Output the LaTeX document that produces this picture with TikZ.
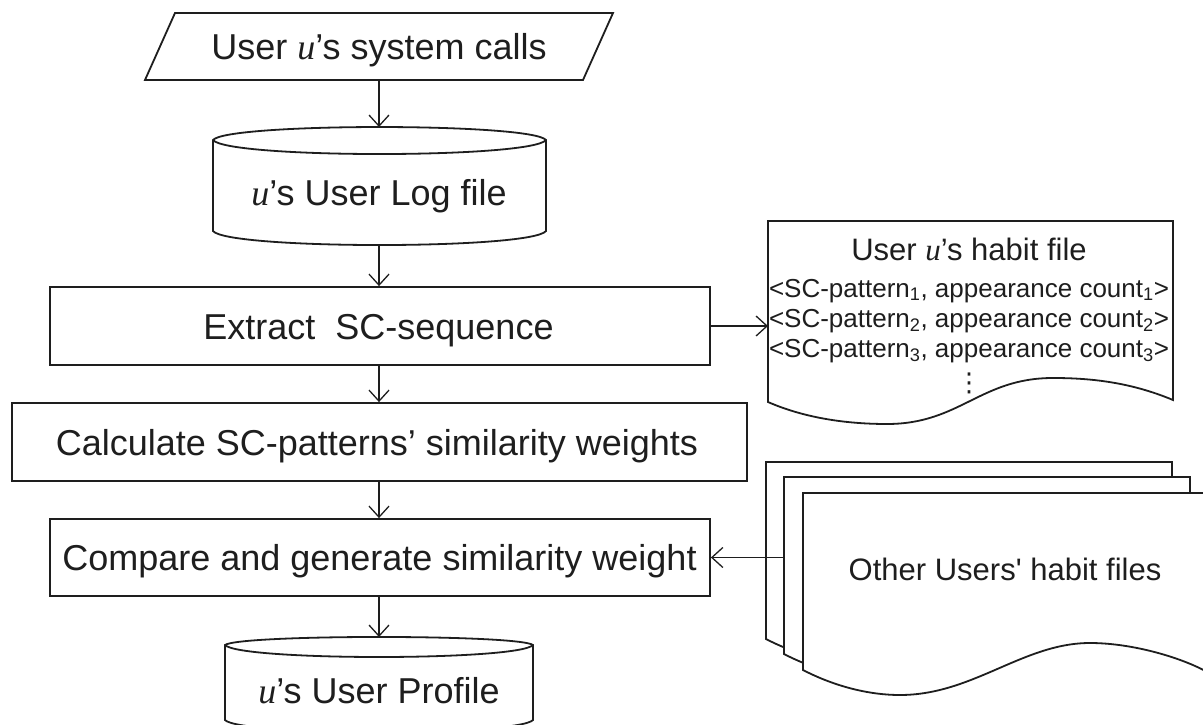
\documentclass[tikz,border=0pt]{standalone}
\usepackage{fontspec}
\setmainfont{Liberation Sans}
\newfontfamily\rawsans{Liberation Sans}
\newfontfamily\timesfam{Liberation Serif}
\newfontfamily\symfam{DejaVu Sans}
\usetikzlibrary{arrows.meta}
\definecolor{ink}{HTML}{1E1E1E}
\newcommand\uvar{{\timesfam\itshape u}}
\tikzset{
  outline/.style={draw=ink, line width=1.8pt, line join=miter},
  arr/.style={draw=ink, line width=1.3pt,
    -{Straight Barb[length=11pt,width=20pt,line width=1.3pt]}},
  box/.style={outline, rectangle, inner sep=0pt},
  big/.style={font=\fontsize{36}{40}\selectfont, text=ink, anchor=base, inner sep=0pt},
  mid/.style={font=\fontsize{31}{36}\selectfont, text=ink, anchor=base, inner sep=0pt},
  small/.style={font=\fontsize{26}{30}\selectfont, text=ink, anchor=base, inner sep=0pt},
  sheet/.pic={
    \draw[outline, fill=white] (0,177) -- (0,0) -- (406,0) -- (406,180)
      .. controls (380,165) and (330,150) .. (287,150)
      .. controls (220,150) and (170,202) .. (97,202)
      .. controls (60,202) and (25,190) .. (0,177) -- cycle;
  }
}
\begin{document}
\begin{tikzpicture}[x=1pt,y=-1pt]
\useasboundingbox (0,0) rectangle (1203,725);
\fill[white] (0,0) rectangle (1203,725);
\clip (0,0) rectangle (1203,725);
\coordinate (spine) at (379,0);

% input: system calls (parallelogram)
\draw[outline] (175,13) -- (613,13) -- (583,80) -- (145,80) -- cycle;
\node[big] (calls) at (379,59.5) {User \uvar’s system calls};
\coordinate (callsout) at (379,80);

% user log file (stored data)
\draw[outline, fill=white] (213,231) -- (213,140)
  .. controls (228,122.7) and (531,122.7) .. (546,140) -- (546,231)
  .. controls (531,249.7) and (228,249.7) .. (213,231) -- cycle;
\draw[outline] (213,140) .. controls (228,158.7) and (531,158.7) .. (546,140);
\node[big] (log) at (379,205) {\uvar’s User Log file};
\coordinate (login) at (379,127);
\coordinate (logout) at (379,245);

% processing steps
\node[box, minimum width=660pt, minimum height=78pt] (extract) at (380,326) {};
\node[big] (extracttxt) at (378.5,339) {Extract\ \ SC-sequence};

\node[box, minimum width=735pt, minimum height=78pt] (calc) at (379.5,442) {};
\node[big] (calctxt) at (377,455) {Calculate SC-patterns’ similarity weights};

\node[box, minimum width=660pt, minimum height=77pt] (comp) at (380,557.5) {};
\node[big] (comptxt) at (379.5,570) {Compare and generate similarity weight};

% user profile (stored data)
\draw[outline, fill=white] (225,720) -- (225,645)
  .. controls (240,634.3) and (518,634.3) .. (533,645) -- (533,720)
  .. controls (518,736) and (240,736) .. (225,720) -- cycle;
\draw[outline] (225,645) .. controls (240,661) and (518,661) .. (533,645);
\node[big] (profile) at (379,703) {\uvar’s User Profile};
\coordinate (profin) at (379,637);

% habit file (document)
\draw[outline, fill=white] (768,402) -- (768,221) -- (1173,221) -- (1173,400)
  .. controls (1130,382) and (1090,378) .. (1053,378)
  .. controls (980,378) and (960,424) .. (887,424)
  .. controls (840,424) and (800,416) .. (768,402) -- cycle;
\coordinate (habitin) at (768,326);
\node[mid] (habittitle) at (969,260) {User \uvar’s habit file};
\node[small] (pat1) at (969,297) {<SC-pattern\textsubscript{1}, appearance count\textsubscript{1}>};
\node[small] (pat2) at (969,327) {<SC-pattern\textsubscript{2}, appearance count\textsubscript{2}>};
\node[small] (pat3) at (969,357) {<SC-pattern\textsubscript{3}, appearance count\textsubscript{3}>};
\node[small, font=\fontsize{26}{30}\selectfont\symfam] (patmore) at (969,391) {⋮};

% other users' habit files (stack of documents)
\pic at (766,462) {sheet};
\pic at (784,477) {sheet};
\pic at (803,493) {sheet};
\node[mid] (others) at (1005,580) {Other Users{\rawsans'} habit files};
\coordinate (othersout) at (784,557.5);

% connectors
\draw[arr] (callsout) -- (login);
\draw[arr] (logout) -- (extract.north -| spine);
\draw[arr] (extract.south -| spine) -- (calc.north -| spine);
\draw[arr] (calc.south -| spine) -- (comp.north -| spine);
\draw[arr] (comp.south -| spine) -- (profin);
\draw[arr] (extract.east) -- (habitin);
\draw[arr] (othersout) -- (comp.east);
\end{tikzpicture}
\end{document}
